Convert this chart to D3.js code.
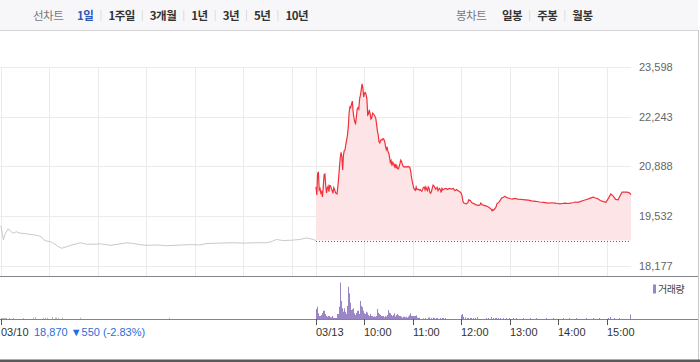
<!DOCTYPE html>
<html>
<head>
<meta charset="utf-8">
<script src="https://cdn.jsdelivr.net/npm/d3@7"></script>
<style>
  body { margin: 0; background: #fff; }
  svg text { font-family: "Liberation Sans", Arial, sans-serif; }
  svg text.kr { font-family: "Noto Sans CJK KR", sans-serif; }
</style>
</head>
<body>
<svg id="chart"></svg>
<script>
// Data
const periodTabs = ["1일", "1주일", "3개월", "1년", "3년", "5년", "10년"];
const candleTabs = ["일봉", "주봉", "월봉"];
const dayLabels = ["03/10", "03/13"];
const hourLabels = ["10:00", "11:00", "12:00", "13:00", "14:00", "15:00"];
const priceTicks = [18177, 19532, 20888, 22243, 23598];
const prevClose = 18870, prevChange = -550, prevRate = -2.83;

// [minutes after 09:00, price] for 03/10
const prevPrices = [
  [0,19270],[2,19000],[3,18890],[5,19050],[9,19190],[12,19120],[15,19070],[19,19110],[24,19070],
  [30,19060],[35,19040],[40,19030],[44,19010],[48,18990],[52,18930],[54,18870],[58,18850],
  [61,18840],[64,18810],[70,18720],[75,18660],[78,18680],[81,18700],[88,18750],[95,18790],
  [98,18810],[102,18790],[106,18770],[115,18770],[123,18780],[130,18760],[135,18740],[145,18770],
  [156,18810],[163,18790],[172,18760],[180,18740],[192,18750],[205,18730],[215,18740],[225,18750],
  [235,18760],[246,18750],[255,18790],[270,18800],[287,18810],[300,18800],[315,18810],[329,18810],
  [336,18850],[341,18900],[349,18870],[360,18880],[370,18900],[378,18940],[385,18910],[390,18870]
];

// [minutes after 09:00, price] for 03/13
const todayPrices = [
  [0,20340],[1,20110],[2,20700],[3,20720],[4,20250],[5,20290],[6,20160],[7,20200],[8,20060],
  [9,20340],[10,20660],[11,20680],[12,20380],[13,20170],[14,20300],[15,20350],[16,20200],
  [17,20370],[18,20360],[19,20290],[20,20230],[21,20160],[22,20310],[23,20260],[24,20180],
  [25,20150],[26,20140],[27,20330],[28,20570],[29,20850],[30,21120],[31,21270],[32,21150],
  [33,20790],[34,21200],[35,21320],[36,21340],[37,21500],[38,21610],[39,21750],[40,21970],
  [41,22350],[42,22510],[43,22490],[44,22590],[45,22670],[46,22370],[47,22210],[48,22100],
  [49,22060],[50,22240],[51,22450],[52,22490],[53,22450],[54,22730],[55,22830],[56,22970],
  [57,23140],[58,23030],[59,22780],[60,22880],[61,22900],[62,22850],[63,22730],[64,22290],
  [65,22320],[66,22430],[67,22320],[68,22180],[69,22210],[70,22340],[71,22320],[72,22290],
  [73,22250],[74,22200],[75,22040],[76,21850],[77,21750],[78,21560],[79,21530],[80,21600],
  [81,21620],[82,21610],[83,21650],[84,21630],[85,21570],[86,21450],[87,21350],[88,21420],
  [89,21300],[90,21260],[91,21150],[92,21000],[93,21050],[94,20910],[95,21000],[96,20960],
  [97,20890],[98,20960],[99,20840],[100,20910],[101,20830],[102,20820],[103,20890],[104,20970],
  [105,21060],[106,21020],[107,20940],[108,20890],[109,20870],[110,20880],[111,20870],[112,20880],
  [113,20870],[114,20890],[115,20870],[116,20870],[117,20790],[118,20630],[119,20500],[120,20400],
  [121,20300],[122,20260],[123,20240],[124,20330],[125,20260],[126,20270],[127,20260],[128,20240],
  [129,20260],[130,20230],[131,20210],[132,20260],[133,20320],[134,20330],[135,20250],[136,20330],
  [137,20270],[138,20230],[139,20330],[140,20290],[141,20180],[142,20160],[143,20210],[144,20300],
  [145,20380],[146,20360],[147,20320],[148,20270],[149,20290],[150,20320],[151,20230],[152,20270],
  [153,20290],[154,20250],[155,20180],[156,20290],[157,20250],[159,20280],[161,20290],[163,20260],
  [165,20290],[168,20270],[170,20290],[172,20230],[174,20260],[176,20230],[178,20200],[180,20160],
  [181,20060],[182,19930],[183,19890],[186,19870],[188,19900],[189,19980],[191,19960],[193,19900],
  [196,19870],[198,19840],[201,19830],[203,19840],[204,19890],[206,19840],[208,19830],[211,19810],
  [213,19790],[215,19760],[217,19720],[218,19680],[219,19720],[220,19700],[222,19750],[223,19790],
  [224,19870],[225,19890],[227,19930],[230,20030],[232,20050],[234,20080],[236,20040],[238,20030],
  [241,20010],[243,20000],[246,20020],[250,20000],[254,19990],[259,19980],[263,19970],[267,19950],
  [272,19940],[277,19920],[282,19910],[287,19890],[292,19900],[296,19890],[299,19880],[302,19870],
  [305,19880],[308,19890],[312,19880],[315,19890],[318,19900],[321,19920],[324,19910],[327,19930],
  [331,19960],[335,19990],[339,20020],[343,20050],[346,20030],[348,20020],[352,19960],[356,19930],
  [359,19910],[362,20020],[365,20140],[368,20080],[371,19990],[374,19980],[377,20110],[379,20190],
  [385,20190],[388,20170],[390,20120]
];

// [minutes after 09:00, shares]
const prevVolume = [
  [0,2000],[1,2000],[2,2000],[3,2000],[4,2000],[5,2000],[6,2000],[7,2000],[10,2000],[15,2000],
  [28,2000],[40,2600],[43,4000],[53,2600],[55,2600],[57,2600],[64,4000],[67,2600],[69,2600],
  [71,2600],[76,2600],[98,2600],[209,2600]
];
const todayVolume = [
  [0,20000],[1,14600],[2,24600],[3,11400],[4,6000],[5,6000],[6,6000],[7,8000],[8,12000],[9,16600],
  [10,16600],[11,12600],[12,10000],[13,6000],[14,4600],[15,2600],[16,6000],[17,6000],[18,3400],
  [19,3400],[20,6000],[21,3400],[22,2600],[23,2000],[24,2000],[25,2000],[26,2000],[27,10000],
  [28,10000],[29,24600],[30,72600],[31,36000],[32,31400],[33,21400],[34,14600],[35,21400],
  [36,14600],[37,11400],[38,10000],[39,26000],[40,64600],[41,50000],[42,51400],[43,32600],
  [44,18000],[45,19400],[46,14600],[47,21400],[48,11400],[49,8000],[50,12000],[51,16600],
  [52,12600],[53,16600],[54,10000],[55,36000],[56,26000],[57,19400],[58,23400],[59,16600],
  [60,11400],[61,10000],[62,14600],[63,12600],[64,12600],[65,8000],[66,6000],[67,4600],[68,10000],
  [69,6000],[70,6000],[71,4600],[72,4600],[73,4600],[74,4600],[75,6000],[76,20000],[77,12600],
  [78,11400],[79,10000],[80,8000],[81,6000],[82,6000],[83,4600],[84,6000],[85,3400],[86,6000],
  [87,4600],[88,4600],[89,8000],[90,18000],[91,12600],[92,11400],[93,8000],[94,8000],[95,6000],
  [96,8000],[97,11400],[98,4600],[99,4600],[100,8000],[101,10000],[102,7400],[103,6000],[104,6000],
  [105,4000],[106,4600],[107,2600],[108,4600],[109,4600],[110,4000],[111,3400],[112,4600],
  [113,2600],[114,4600],[115,4600],[116,7400],[117,11400],[118,6000],[119,6000],[120,6000],
  [121,6000],[122,6000],[123,6000],[124,6000],[125,7400],[126,2600],[127,2000],[128,2600],
  [133,1400],[135,2000],[139,2600],[141,3400],[143,2000],[145,2600],[147,2000],[149,2000],
  [151,2000],[154,2000],[156,2000],[158,2000],[160,2000],[180,8000],[181,6000],[182,10000],
  [183,4600],[185,3400],[187,2000],[189,2000],[191,2000],[193,2000],[195,2000],[197,2000],
  [200,4000],[211,2000],[213,2000],[217,4000],[220,2000],[222,2000],[224,2000],[226,2000],
  [228,2000],[232,2000],[236,2000],[240,2000],[244,2000],[248,2000],[257,2000],[265,2000],
  [273,2000],[285,2000],[294,2000],[306,2000],[314,2000],[322,2000],[335,2000],[343,2000],
  [351,2000],[362,2000],[364,4000],[370,2000],[376,2000],[389,9000]
];

const width = 700, height = 362;
const session = 390; // minutes in one trading day

const svg = d3.select("#chart")
    .attr("width", width)
    .attr("height", height);

// scales: two sessions side by side
const x = d3.scaleLinear().domain([0, session * 2]).range([1, 631]);
const y = d3.scaleLinear().domain([priceTicks[0], priceTicks[4]]).range([266, 67]);
const yv = d3.scaleLinear().domain([0, 80000]).range([319, 279]);

// ---- top tab bar
const bar = svg.append("g");
bar.append("rect").attr("width", 698).attr("height", 30).attr("fill", "#f7f7f9");
bar.append("line").attr("x1", 0).attr("x2", 698).attr("y1", 30.5).attr("y2", 30.5)
    .attr("stroke", "#d6d6d8");

function tabRow(title, titleX, items, startX, activeIdx) {
    bar.append("text").attr("class", "kr")
        .attr("x", titleX).attr("y", 19.5)
        .attr("font-size", 11.5).attr("fill", "#777")
        .style("letter-spacing", "-0.5px")
        .text(title);
    let cx = startX;
    items.forEach((t, i) => {
        const el = bar.append("text").attr("class", "kr")
            .attr("x", cx).attr("y", 19.5)
            .attr("font-size", 11.5).attr("font-weight", "bold")
            .attr("fill", i === activeIdx ? "#2c56b8" : "#333")
            .style("letter-spacing", "-0.5px")
            .text(t);
        const w = el.node().getComputedTextLength();
        if (i < items.length - 1) {
            bar.append("line")
                .attr("x1", cx + w + 7.5).attr("x2", cx + w + 7.5)
                .attr("y1", 10).attr("y2", 21)
                .attr("stroke", "#dcdcdc");
        }
        cx += w + 15;
    });
}
tabRow("선차트", 33, periodTabs, 77, 0);
tabRow("봉차트", 456, candleTabs, 502, -1);

// ---- grid
const vLines = d3.range(0, 7).map(h => h * 60)
    .concat(d3.range(0, 7).map(h => session + h * 60));

svg.append("g").selectAll("line").data(priceTicks).join("line")
    .attr("x1", 0).attr("x2", 631)
    .attr("y1", d => Math.round(y(d)) + 0.5).attr("y2", d => Math.round(y(d)) + 0.5)
    .attr("stroke", "#ebebeb");

svg.append("g").selectAll("line").data(vLines).join("line")
    .attr("x1", d => Math.round(x(d)) + 0.5).attr("x2", d => Math.round(x(d)) + 0.5)
    .attr("y1", 67).attr("y2", 276)
    .attr("stroke", "#ebebeb");

// ---- today area + line
const base = y(prevClose);
const todayPts = todayPrices.map(d => [session + d[0], d[1]]);

svg.append("path")
    .datum(todayPts)
    .attr("fill", "#fde5e7")
    .attr("d", d3.area().x(d => x(d[0])).y0(base).y1(d => y(d[1])));

svg.append("line")
    .attr("x1", x(session)).attr("x2", x(session * 2))
    .attr("y1", Math.round(base) + 0.5).attr("y2", Math.round(base) + 0.5)
    .attr("stroke", "#666").attr("stroke-dasharray", "1,2");

svg.append("path")
    .datum(prevPrices)
    .attr("fill", "none")
    .attr("stroke", "#c9c9ce")
    .attr("stroke-width", 1)
    .attr("d", d3.line().x(d => x(d[0])).y(d => y(d[1])));

svg.append("path")
    .datum(todayPts)
    .attr("fill", "none")
    .attr("stroke", "#f2303a")
    .attr("stroke-width", 1.2)
    .attr("d", d3.line().x(d => x(d[0])).y(d => y(d[1])));

// ---- y labels
svg.append("g").selectAll("text").data(priceTicks).join("text")
    .attr("x", 639).attr("y", d => y(d) + 4)
    .attr("font-size", 11).attr("fill", "#666")
    .text(d => d3.format(",")(d));

// ---- frame lines
svg.append("line").attr("x1", 0).attr("x2", 698).attr("y1", 276.5).attr("y2", 276.5)
    .attr("stroke", "#80868b");
svg.append("line").attr("x1", 698.5).attr("x2", 698.5).attr("y1", 30).attr("y2", 360)
    .attr("stroke", "#c8c8c8");

// ---- volume
svg.append("g").selectAll("rect").data(prevVolume).join("rect")
    .attr("x", d => Math.floor(x(d[0])))
    .attr("width", 1)
    .attr("y", d => yv(d[1]))
    .attr("height", d => yv(0) - yv(d[1]))
    .attr("fill", "#b9b9bd");

svg.append("g").selectAll("rect").data(todayVolume).join("rect")
    .attr("x", d => Math.floor(x(session + d[0])))
    .attr("width", 1)
    .attr("y", d => yv(d[1]))
    .attr("height", d => yv(0) - yv(d[1]))
    .attr("fill", "#9a86c6");

svg.append("rect").attr("x", 653).attr("y", 284.5).attr("width", 3).attr("height", 9)
    .attr("fill", "#9a86c6");
svg.append("text").attr("class", "kr")
    .attr("x", 658).attr("y", 293)
    .attr("font-size", 10).attr("fill", "#444")
    .style("letter-spacing", "-0.5px")
    .text("거래량");

// ---- x axis
svg.append("line").attr("x1", 0).attr("x2", 698).attr("y1", 319.5).attr("y2", 319.5)
    .attr("stroke", "#80868b");

const xTicks = [
    { m: 0, label: dayLabels[0] },
    { m: session, label: dayLabels[1] }
].concat(hourLabels.map((h, i) => ({ m: session + (i + 1) * 60, label: h })));

const tk = svg.append("g").selectAll("g").data(xTicks).join("g")
    .attr("transform", d => `translate(${Math.round(x(d.m)) + 0.5},0)`);
tk.append("line").attr("y1", 319).attr("y2", 325).attr("stroke", "#555");
tk.append("text").attr("x", -0.5).attr("y", 336)
    .attr("font-size", 11).attr("fill", "#333")
    .text(d => d.label);

svg.append("text")
    .attr("x", 34).attr("y", 336)
    .attr("font-size", 11).attr("fill", "#1f6fd8")
    .text(`${d3.format(",")(prevClose)} ▼${d3.format(",")(Math.abs(prevChange))} (${prevRate.toFixed(2)}%)`);

// ---- bottom rule
svg.append("rect").attr("x", 0).attr("y", 359.5).attr("width", 700).attr("height", 2.5)
    .attr("fill", "#5a5a5a");
</script>
</body>
</html>
